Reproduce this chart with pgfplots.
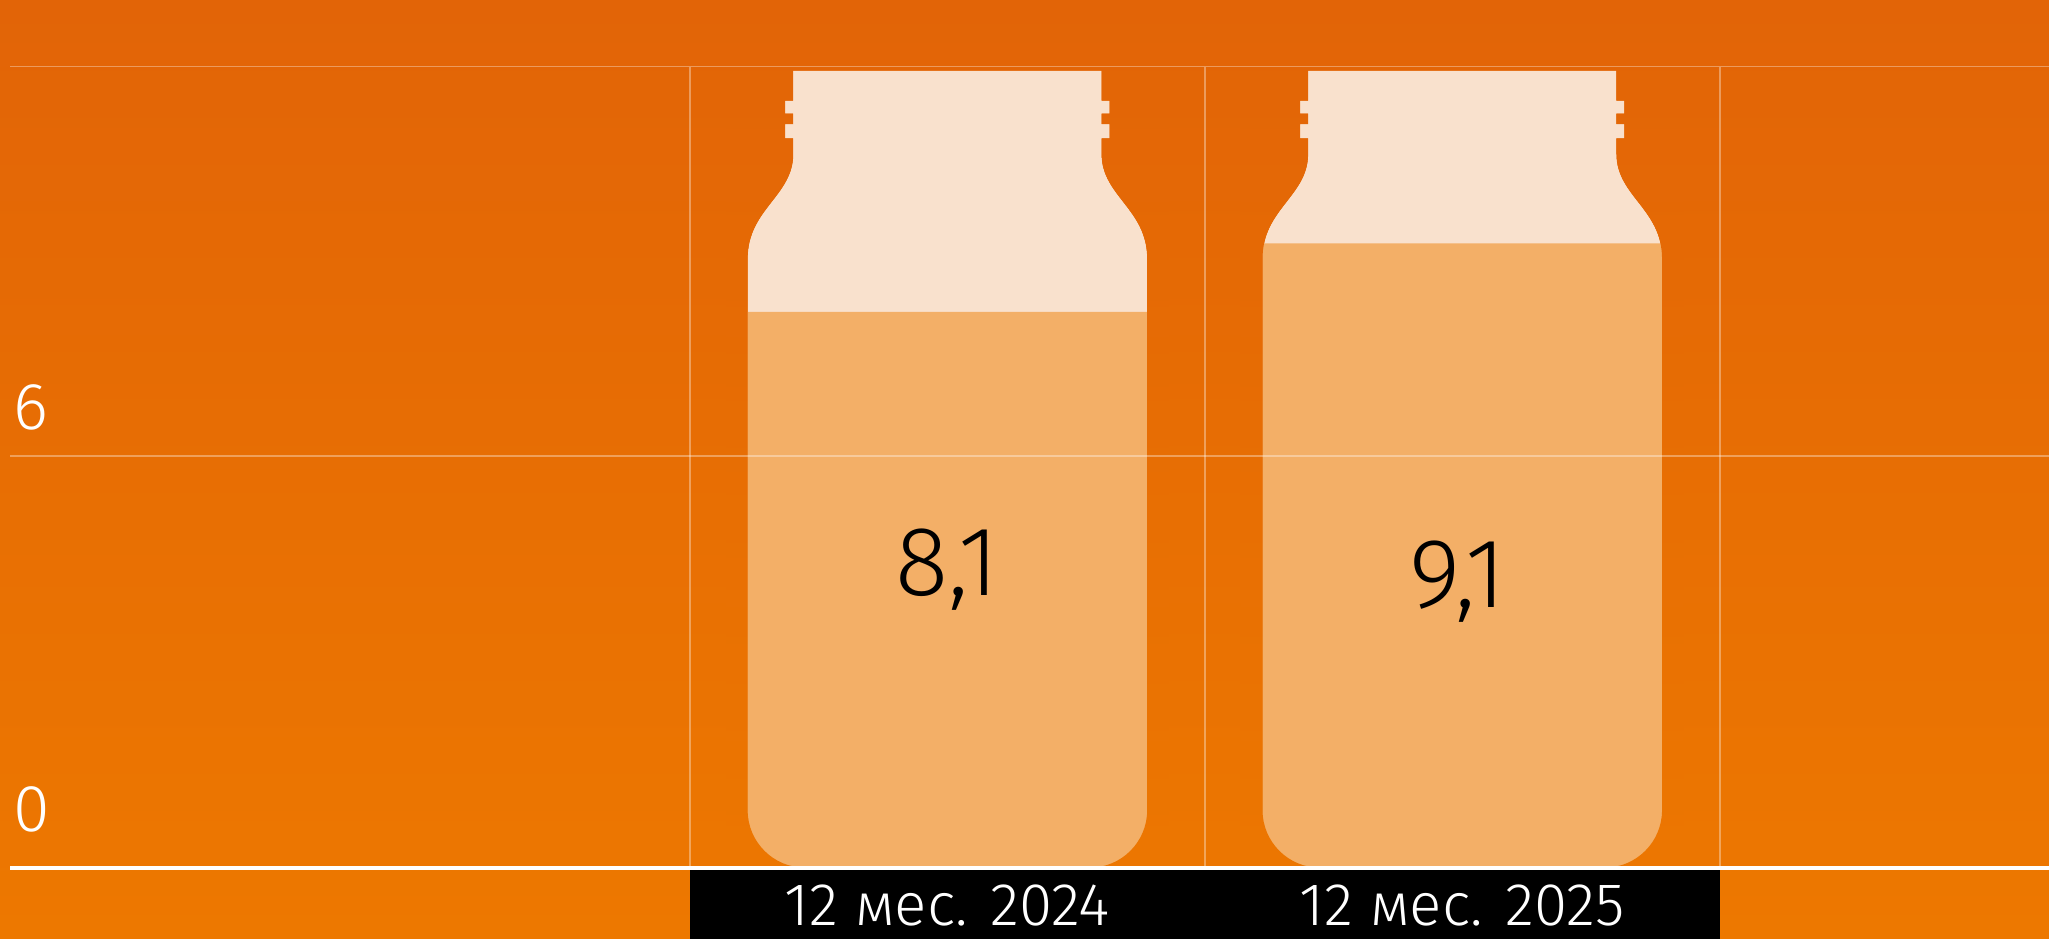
\documentclass[border=0pt]{standalone}
\usepackage{fontspec}
\setmainfont{Fira Sans Light}
\usepackage{pgfplots}
\pgfplotsset{compat=1.18}
\definecolor{bgtop}{RGB}{226,100,7}
\definecolor{bgbot}{RGB}{237,120,0}
\definecolor{bottlelight}{RGB}{249,225,205}
\definecolor{liquid}{RGB}{243,175,103}
% bottle outline: #1 body left, #2 ridge left, #3 neck left, #4 neck right, #5 ridge right, #6 body right
\newcommand{\bottlepath}[6]{%
 (axis cs:#3,11.619) -- (axis cs:#4,11.619) -- (axis cs:#4,11.181) -- (axis cs:#5,11.181)
 -- (axis cs:#5,10.990) -- (axis cs:#4,10.990) -- (axis cs:#4,10.838) -- (axis cs:#5,10.838)
 -- (axis cs:#5,10.629) -- (axis cs:#4,10.629) -- (axis cs:#4,10.400)
 .. controls (axis cs:#4,9.79) and (axis cs:#6,9.60) .. (axis cs:#6,8.876)
 -- (axis cs:#6,4) [rounded corners=22pt] -- (axis cs:#6,0) -- (axis cs:#1,0) -- (axis cs:#1,4) [sharp corners]
 -- (axis cs:#1,8.876) .. controls (axis cs:#1,9.60) and (axis cs:#3,9.79) .. (axis cs:#3,10.400)
 -- (axis cs:#3,10.629) -- (axis cs:#2,10.629) -- (axis cs:#2,10.838) -- (axis cs:#3,10.838)
 -- (axis cs:#3,10.990) -- (axis cs:#2,10.990) -- (axis cs:#2,11.181) -- (axis cs:#3,11.181) -- cycle}
\begin{document}
\begin{tikzpicture}[x=1pt,y=1pt]
\shade[top color=bgtop, bottom color=bgbot] (0,0) rectangle (784,359);
\begin{axis}[
  at={(4pt,27pt)}, anchor=south west,
  scale only axis, width=780pt, height=306.5pt,
  xmin=-1.8198, xmax=2.1396, ymin=0, ymax=11.676,
  clip=false, axis on top,
  axis line style={draw=none},
  /pgf/number format/assume math mode=true,
  xtick={-0.5,0.5,1.5}, xticklabels={},
  ytick={6,11.676}, yticklabels={6,},
  extra y ticks={0}, extra y tick labels={0},
  extra y tick style={grid=none, yticklabel style={yshift=4pt}},
  extra x ticks={0,1}, extra x tick labels={12 мес. 2024,12 мес. 2025},
  extra x tick style={grid=none},
  xmajorgrids, ymajorgrids,
  grid style={white, opacity=0.35, line width=0.6pt},
  major tick length=0pt,
  yticklabel style={anchor=south west, inner sep=0pt, xshift=1pt, yshift=9.5pt, text=white, font=\fontsize{25.4}{26}\selectfont},
  xticklabel style={anchor=north, inner sep=0pt, yshift=-6.5pt, text=white, font=\fontsize{23}{24}\selectfont},
]
\fill[black] (axis cs:-0.5,0) rectangle (axis cs:1.5,-1.3);
\fill[bottlelight] \bottlepath{-0.388}{-0.315}{-0.2995}{0.2995}{0.315}{0.388};
\fill[bottlelight] \bottlepath{0.612}{0.685}{0.7005}{1.2995}{1.315}{1.388};
\addplot[ybar, bar width=0.776, fill=liquid, draw=none] coordinates {(0,8.1) (1,9.1)};
\shade[top color=bgtop, bottom color=bgbot!92!bgtop, even odd rule]
  (axis cs:-0.43,0) rectangle (axis cs:0.43,12.648) \bottlepath{-0.388}{-0.315}{-0.2995}{0.2995}{0.315}{0.388};
\shade[top color=bgtop, bottom color=bgbot!92!bgtop, even odd rule]
  (axis cs:0.57,0) rectangle (axis cs:1.43,12.648) \bottlepath{0.612}{0.685}{0.7005}{1.2995}{1.315}{1.388};
\node[anchor=base, inner sep=0pt, text=black, font=\fontsize{37.7}{38}\selectfont] at (axis cs:0,3.962) {8,1};
\node[anchor=base, inner sep=0pt, text=black, font=\fontsize{37.7}{38}\selectfont] at (axis cs:0.992,3.790) {9,1};
\draw[white, line width=1.6pt] (axis cs:-1.8198,0) -- (axis cs:2.1396,0);
\end{axis}
\pgfresetboundingbox
\useasboundingbox (0,0) rectangle (784,359);
\end{tikzpicture}
\end{document}
